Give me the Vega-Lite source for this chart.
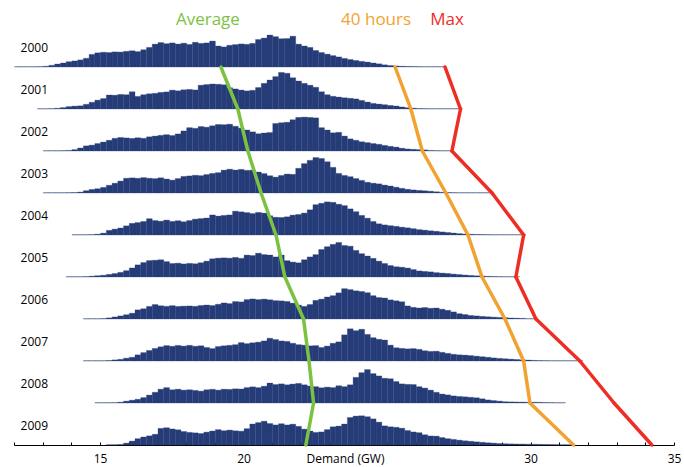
{
"$schema":"https://vega.github.io/schema/vega-lite/v6.json",
"padding":{"left":13,"top":11,"right":4,"bottom":1},
"background":"white",
"config":{"view":{"stroke":null},"font":"Open Sans"},
"data":{"values":[
{"yr":2000,"d":12.0,"n":0.3},{"yr":2000,"d":12.2,"n":0.3},{"yr":2000,"d":12.4,"n":0.3},{"yr":2000,"d":12.6,"n":0.3},{"yr":2000,"d":12.8,"n":0.4},{"yr":2000,"d":13.0,"n":0.8},{"yr":2000,"d":13.2,"n":1.8},{"yr":2000,"d":13.4,"n":3.2},{"yr":2000,"d":13.6,"n":4.3},{"yr":2000,"d":13.8,"n":5.7},{"yr":2000,"d":14.0,"n":6.5},{"yr":2000,"d":14.2,"n":7.6},{"yr":2000,"d":14.4,"n":9.3},{"yr":2000,"d":14.6,"n":13.5},{"yr":2000,"d":14.8,"n":15.2},{"yr":2000,"d":15.0,"n":15.8},{"yr":2000,"d":15.2,"n":15.5},{"yr":2000,"d":15.4,"n":16.2},{"yr":2000,"d":15.6,"n":16},{"yr":2000,"d":15.8,"n":16.8},{"yr":2000,"d":16.0,"n":17.4},{"yr":2000,"d":16.2,"n":16.5},{"yr":2000,"d":16.4,"n":18.5},{"yr":2000,"d":16.6,"n":21},{"yr":2000,"d":16.8,"n":24.5},{"yr":2000,"d":17.0,"n":26.2},{"yr":2000,"d":17.2,"n":25},{"yr":2000,"d":17.4,"n":25.8},{"yr":2000,"d":17.6,"n":24.6},{"yr":2000,"d":17.8,"n":25.5},{"yr":2000,"d":18.0,"n":24.2},{"yr":2000,"d":18.2,"n":26.5},{"yr":2000,"d":18.4,"n":25.3},{"yr":2000,"d":18.6,"n":25.8},{"yr":2000,"d":18.8,"n":27.8},{"yr":2000,"d":19.0,"n":22.5},{"yr":2000,"d":19.2,"n":21.5},{"yr":2000,"d":19.4,"n":23.3},{"yr":2000,"d":19.6,"n":24},{"yr":2000,"d":19.8,"n":24.7},{"yr":2000,"d":20.0,"n":24.3},{"yr":2000,"d":20.2,"n":25.3},{"yr":2000,"d":20.4,"n":29.5},{"yr":2000,"d":20.6,"n":31},{"yr":2000,"d":20.8,"n":34.2},{"yr":2000,"d":21.0,"n":32.5},{"yr":2000,"d":21.2,"n":30.3},{"yr":2000,"d":21.4,"n":30.5},{"yr":2000,"d":21.6,"n":33},{"yr":2000,"d":21.8,"n":24.5},{"yr":2000,"d":22.0,"n":22.5},{"yr":2000,"d":22.2,"n":21},{"yr":2000,"d":22.4,"n":17.7},{"yr":2000,"d":22.6,"n":15.5},{"yr":2000,"d":22.8,"n":13.8},{"yr":2000,"d":23.0,"n":12.2},{"yr":2000,"d":23.2,"n":10.8},{"yr":2000,"d":23.4,"n":9.2},{"yr":2000,"d":23.6,"n":8},{"yr":2000,"d":23.8,"n":7},{"yr":2000,"d":24.0,"n":6},{"yr":2000,"d":24.2,"n":5.3},{"yr":2000,"d":24.4,"n":4.3},{"yr":2000,"d":24.6,"n":3.4},{"yr":2000,"d":24.8,"n":2.3},{"yr":2000,"d":25.0,"n":1.6},{"yr":2000,"d":25.2,"n":1.1},{"yr":2000,"d":25.4,"n":0.8},{"yr":2000,"d":25.6,"n":0.6},{"yr":2000,"d":25.8,"n":0.5},{"yr":2000,"d":26.0,"n":0.4},{"yr":2000,"d":26.2,"n":0.3},{"yr":2000,"d":26.4,"n":0.3},{"yr":2000,"d":26.6,"n":0.3},{"yr":2000,"d":26.8,"n":0.3},
{"yr":2001,"d":12.8,"n":0.3},{"yr":2001,"d":13.0,"n":0.3},{"yr":2001,"d":13.2,"n":0.4},{"yr":2001,"d":13.4,"n":0.8},{"yr":2001,"d":13.6,"n":1.5},{"yr":2001,"d":13.8,"n":2.6},{"yr":2001,"d":14.0,"n":3.1},{"yr":2001,"d":14.2,"n":3.4},{"yr":2001,"d":14.4,"n":5},{"yr":2001,"d":14.6,"n":7.2},{"yr":2001,"d":14.8,"n":9.5},{"yr":2001,"d":15.0,"n":11.2},{"yr":2001,"d":15.2,"n":15},{"yr":2001,"d":15.4,"n":14.8},{"yr":2001,"d":15.6,"n":15.6},{"yr":2001,"d":15.8,"n":15.3},{"yr":2001,"d":16.0,"n":18.5},{"yr":2001,"d":16.2,"n":13.5},{"yr":2001,"d":16.4,"n":15.3},{"yr":2001,"d":16.6,"n":16.3},{"yr":2001,"d":16.8,"n":16.8},{"yr":2001,"d":17.0,"n":17.8},{"yr":2001,"d":17.2,"n":18.3},{"yr":2001,"d":17.4,"n":20.2},{"yr":2001,"d":17.6,"n":19.5},{"yr":2001,"d":17.8,"n":20.6},{"yr":2001,"d":18.0,"n":21},{"yr":2001,"d":18.2,"n":20.4},{"yr":2001,"d":18.4,"n":25.5},{"yr":2001,"d":18.6,"n":26.2},{"yr":2001,"d":18.8,"n":26.8},{"yr":2001,"d":19.0,"n":26.5},{"yr":2001,"d":19.2,"n":26},{"yr":2001,"d":19.4,"n":22.8},{"yr":2001,"d":19.6,"n":21.5},{"yr":2001,"d":19.8,"n":20.3},{"yr":2001,"d":20.0,"n":19.4},{"yr":2001,"d":20.2,"n":20},{"yr":2001,"d":20.4,"n":23},{"yr":2001,"d":20.6,"n":27.5},{"yr":2001,"d":20.8,"n":31},{"yr":2001,"d":21.0,"n":34.7},{"yr":2001,"d":21.2,"n":39.2},{"yr":2001,"d":21.4,"n":38.3},{"yr":2001,"d":21.6,"n":33.5},{"yr":2001,"d":21.8,"n":30},{"yr":2001,"d":22.0,"n":27.5},{"yr":2001,"d":22.2,"n":25.5},{"yr":2001,"d":22.4,"n":23.3},{"yr":2001,"d":22.6,"n":18.5},{"yr":2001,"d":22.8,"n":15.3},{"yr":2001,"d":23.0,"n":13.6},{"yr":2001,"d":23.2,"n":12.8},{"yr":2001,"d":23.4,"n":12},{"yr":2001,"d":23.6,"n":11.5},{"yr":2001,"d":23.8,"n":10.8},{"yr":2001,"d":24.0,"n":9.2},{"yr":2001,"d":24.2,"n":7.5},{"yr":2001,"d":24.4,"n":6},{"yr":2001,"d":24.6,"n":5.3},{"yr":2001,"d":24.8,"n":4.6},{"yr":2001,"d":25.0,"n":3.8},{"yr":2001,"d":25.2,"n":3.2},{"yr":2001,"d":25.4,"n":2.2},{"yr":2001,"d":25.6,"n":1.4},{"yr":2001,"d":25.8,"n":0.9},{"yr":2001,"d":26.0,"n":0.5},{"yr":2001,"d":26.2,"n":0.4},{"yr":2001,"d":26.4,"n":0.3},{"yr":2001,"d":26.6,"n":0.3},{"yr":2001,"d":26.8,"n":0.3},{"yr":2001,"d":27.0,"n":0.3},{"yr":2001,"d":27.2,"n":0.3},{"yr":2001,"d":27.4,"n":0.3},
{"yr":2002,"d":13.0,"n":0.3},{"yr":2002,"d":13.2,"n":0.3},{"yr":2002,"d":13.4,"n":0.3},{"yr":2002,"d":13.6,"n":0.4},{"yr":2002,"d":13.8,"n":0.6},{"yr":2002,"d":14.0,"n":1.5},{"yr":2002,"d":14.2,"n":3.2},{"yr":2002,"d":14.4,"n":5.5},{"yr":2002,"d":14.6,"n":6.3},{"yr":2002,"d":14.8,"n":8},{"yr":2002,"d":15.0,"n":9.6},{"yr":2002,"d":15.2,"n":11.5},{"yr":2002,"d":15.4,"n":13.6},{"yr":2002,"d":15.6,"n":14.5},{"yr":2002,"d":15.8,"n":14},{"yr":2002,"d":16.0,"n":13.5},{"yr":2002,"d":16.2,"n":14.2},{"yr":2002,"d":16.4,"n":13.6},{"yr":2002,"d":16.6,"n":15.2},{"yr":2002,"d":16.8,"n":16},{"yr":2002,"d":17.0,"n":16.8},{"yr":2002,"d":17.2,"n":17.5},{"yr":2002,"d":17.4,"n":16.6},{"yr":2002,"d":17.6,"n":18.3},{"yr":2002,"d":17.8,"n":21.5},{"yr":2002,"d":18.0,"n":25},{"yr":2002,"d":18.2,"n":24.3},{"yr":2002,"d":18.4,"n":26.2},{"yr":2002,"d":18.6,"n":25.5},{"yr":2002,"d":18.8,"n":27},{"yr":2002,"d":19.0,"n":28.4},{"yr":2002,"d":19.2,"n":28.2},{"yr":2002,"d":19.4,"n":28.7},{"yr":2002,"d":19.6,"n":26.5},{"yr":2002,"d":19.8,"n":24.5},{"yr":2002,"d":20.0,"n":22.5},{"yr":2002,"d":20.2,"n":20.5},{"yr":2002,"d":20.4,"n":18.5},{"yr":2002,"d":20.6,"n":19.3},{"yr":2002,"d":20.8,"n":19.8},{"yr":2002,"d":21.0,"n":29.5},{"yr":2002,"d":21.2,"n":30.3},{"yr":2002,"d":21.4,"n":30.8},{"yr":2002,"d":21.6,"n":33.5},{"yr":2002,"d":21.8,"n":36},{"yr":2002,"d":22.0,"n":36.3},{"yr":2002,"d":22.2,"n":36},{"yr":2002,"d":22.4,"n":35.5},{"yr":2002,"d":22.6,"n":25},{"yr":2002,"d":22.8,"n":22.5},{"yr":2002,"d":23.0,"n":19.5},{"yr":2002,"d":23.2,"n":20},{"yr":2002,"d":23.4,"n":16},{"yr":2002,"d":23.6,"n":13},{"yr":2002,"d":23.8,"n":11.5},{"yr":2002,"d":24.0,"n":9.9},{"yr":2002,"d":24.2,"n":9},{"yr":2002,"d":24.4,"n":8},{"yr":2002,"d":24.6,"n":7.2},{"yr":2002,"d":24.8,"n":6},{"yr":2002,"d":25.0,"n":5},{"yr":2002,"d":25.2,"n":4.2},{"yr":2002,"d":25.4,"n":3},{"yr":2002,"d":25.6,"n":2.2},{"yr":2002,"d":25.8,"n":1.8},{"yr":2002,"d":26.0,"n":1.5},{"yr":2002,"d":26.2,"n":1.2},{"yr":2002,"d":26.4,"n":0.6},{"yr":2002,"d":26.6,"n":0.4},{"yr":2002,"d":26.8,"n":0.3},{"yr":2002,"d":27.0,"n":0.3},
{"yr":2003,"d":13.0,"n":0.3},{"yr":2003,"d":13.2,"n":0.3},{"yr":2003,"d":13.4,"n":0.3},{"yr":2003,"d":13.6,"n":0.3},{"yr":2003,"d":13.8,"n":0.4},{"yr":2003,"d":14.0,"n":0.5},{"yr":2003,"d":14.2,"n":1},{"yr":2003,"d":14.4,"n":2.5},{"yr":2003,"d":14.6,"n":3.8},{"yr":2003,"d":14.8,"n":4.6},{"yr":2003,"d":15.0,"n":6},{"yr":2003,"d":15.2,"n":8.3},{"yr":2003,"d":15.4,"n":10.5},{"yr":2003,"d":15.6,"n":12.8},{"yr":2003,"d":15.8,"n":15.8},{"yr":2003,"d":16.0,"n":16.2},{"yr":2003,"d":16.2,"n":15.8},{"yr":2003,"d":16.4,"n":16.5},{"yr":2003,"d":16.6,"n":15.8},{"yr":2003,"d":16.8,"n":15.4},{"yr":2003,"d":17.0,"n":16.3},{"yr":2003,"d":17.2,"n":15},{"yr":2003,"d":17.4,"n":13.8},{"yr":2003,"d":17.6,"n":15.5},{"yr":2003,"d":17.8,"n":17.8},{"yr":2003,"d":18.0,"n":18.3},{"yr":2003,"d":18.2,"n":19},{"yr":2003,"d":18.4,"n":18.6},{"yr":2003,"d":18.6,"n":19.8},{"yr":2003,"d":18.8,"n":21},{"yr":2003,"d":19.0,"n":21.8},{"yr":2003,"d":19.2,"n":24.5},{"yr":2003,"d":19.4,"n":25.5},{"yr":2003,"d":19.6,"n":24.6},{"yr":2003,"d":19.8,"n":25.3},{"yr":2003,"d":20.0,"n":24.3},{"yr":2003,"d":20.2,"n":24.5},{"yr":2003,"d":20.4,"n":22.5},{"yr":2003,"d":20.6,"n":20.8},{"yr":2003,"d":20.8,"n":18.6},{"yr":2003,"d":21.0,"n":17},{"yr":2003,"d":21.2,"n":18.8},{"yr":2003,"d":21.4,"n":20.3},{"yr":2003,"d":21.6,"n":20},{"yr":2003,"d":21.8,"n":26.5},{"yr":2003,"d":22.0,"n":31.5},{"yr":2003,"d":22.2,"n":35},{"yr":2003,"d":22.4,"n":38},{"yr":2003,"d":22.6,"n":37},{"yr":2003,"d":22.8,"n":33.5},{"yr":2003,"d":23.0,"n":27.5},{"yr":2003,"d":23.2,"n":21},{"yr":2003,"d":23.4,"n":18.8},{"yr":2003,"d":23.6,"n":17.5},{"yr":2003,"d":23.8,"n":15.5},{"yr":2003,"d":24.0,"n":13.5},{"yr":2003,"d":24.2,"n":11.5},{"yr":2003,"d":24.4,"n":10.5},{"yr":2003,"d":24.6,"n":9.8},{"yr":2003,"d":24.8,"n":8.5},{"yr":2003,"d":25.0,"n":7.5},{"yr":2003,"d":25.2,"n":6.2},{"yr":2003,"d":25.4,"n":5},{"yr":2003,"d":25.6,"n":4},{"yr":2003,"d":25.8,"n":3.3},{"yr":2003,"d":26.0,"n":2.8},{"yr":2003,"d":26.2,"n":2.4},{"yr":2003,"d":26.4,"n":1.9},{"yr":2003,"d":26.6,"n":1.3},{"yr":2003,"d":26.8,"n":0.8},{"yr":2003,"d":27.0,"n":0.6},{"yr":2003,"d":27.2,"n":0.4},{"yr":2003,"d":27.4,"n":0.3},{"yr":2003,"d":27.6,"n":0.3},{"yr":2003,"d":27.8,"n":0.3},{"yr":2003,"d":28.0,"n":0.3},{"yr":2003,"d":28.2,"n":0.3},{"yr":2003,"d":28.4,"n":0.3},
{"yr":2004,"d":14.0,"n":0.3},{"yr":2004,"d":14.2,"n":0.3},{"yr":2004,"d":14.4,"n":0.3},{"yr":2004,"d":14.6,"n":0.4},{"yr":2004,"d":14.8,"n":0.9},{"yr":2004,"d":15.0,"n":2},{"yr":2004,"d":15.2,"n":5},{"yr":2004,"d":15.4,"n":6.3},{"yr":2004,"d":15.6,"n":7.5},{"yr":2004,"d":15.8,"n":9.8},{"yr":2004,"d":16.0,"n":12.5},{"yr":2004,"d":16.2,"n":13.3},{"yr":2004,"d":16.4,"n":14.5},{"yr":2004,"d":16.6,"n":17.5},{"yr":2004,"d":16.8,"n":15.5},{"yr":2004,"d":17.0,"n":14.8},{"yr":2004,"d":17.2,"n":16},{"yr":2004,"d":17.4,"n":14.6},{"yr":2004,"d":17.6,"n":15.3},{"yr":2004,"d":17.8,"n":14.2},{"yr":2004,"d":18.0,"n":15.5},{"yr":2004,"d":18.2,"n":17},{"yr":2004,"d":18.4,"n":17.6},{"yr":2004,"d":18.6,"n":18.2},{"yr":2004,"d":18.8,"n":21.5},{"yr":2004,"d":19.0,"n":20.3},{"yr":2004,"d":19.2,"n":21},{"yr":2004,"d":19.4,"n":21.5},{"yr":2004,"d":19.6,"n":25.5},{"yr":2004,"d":19.8,"n":24.8},{"yr":2004,"d":20.0,"n":24},{"yr":2004,"d":20.2,"n":23},{"yr":2004,"d":20.4,"n":24.2},{"yr":2004,"d":20.6,"n":23.5},{"yr":2004,"d":20.8,"n":20.5},{"yr":2004,"d":21.0,"n":19},{"yr":2004,"d":21.2,"n":18.8},{"yr":2004,"d":21.4,"n":19.5},{"yr":2004,"d":21.6,"n":21.3},{"yr":2004,"d":21.8,"n":22},{"yr":2004,"d":22.0,"n":23.5},{"yr":2004,"d":22.2,"n":27},{"yr":2004,"d":22.4,"n":32.5},{"yr":2004,"d":22.6,"n":34},{"yr":2004,"d":22.8,"n":35.5},{"yr":2004,"d":23.0,"n":35},{"yr":2004,"d":23.2,"n":33},{"yr":2004,"d":23.4,"n":31.5},{"yr":2004,"d":23.6,"n":28},{"yr":2004,"d":23.8,"n":25},{"yr":2004,"d":24.0,"n":21},{"yr":2004,"d":24.2,"n":18},{"yr":2004,"d":24.4,"n":14.5},{"yr":2004,"d":24.6,"n":12},{"yr":2004,"d":24.8,"n":10.8},{"yr":2004,"d":25.0,"n":10},{"yr":2004,"d":25.2,"n":9.3},{"yr":2004,"d":25.4,"n":8.4},{"yr":2004,"d":25.6,"n":7.7},{"yr":2004,"d":25.8,"n":6.8},{"yr":2004,"d":26.0,"n":5.8},{"yr":2004,"d":26.2,"n":5.2},{"yr":2004,"d":26.4,"n":4.5},{"yr":2004,"d":26.6,"n":4},{"yr":2004,"d":26.8,"n":3.3},{"yr":2004,"d":27.0,"n":2.7},{"yr":2004,"d":27.2,"n":2.1},{"yr":2004,"d":27.4,"n":1.5},{"yr":2004,"d":27.6,"n":1.1},{"yr":2004,"d":27.8,"n":0.8},{"yr":2004,"d":28.0,"n":0.6},{"yr":2004,"d":28.2,"n":0.5},{"yr":2004,"d":28.4,"n":0.4},{"yr":2004,"d":28.6,"n":0.3},{"yr":2004,"d":28.8,"n":0.3},{"yr":2004,"d":29.0,"n":0.3},{"yr":2004,"d":29.2,"n":0.3},{"yr":2004,"d":29.4,"n":0.3},{"yr":2004,"d":29.6,"n":0.3},
{"yr":2005,"d":13.8,"n":0.3},{"yr":2005,"d":14.0,"n":0.3},{"yr":2005,"d":14.2,"n":0.3},{"yr":2005,"d":14.4,"n":0.5},{"yr":2005,"d":14.6,"n":0.9},{"yr":2005,"d":14.8,"n":1.4},{"yr":2005,"d":15.0,"n":1.9},{"yr":2005,"d":15.2,"n":2.8},{"yr":2005,"d":15.4,"n":3.7},{"yr":2005,"d":15.6,"n":5},{"yr":2005,"d":15.8,"n":6.8},{"yr":2005,"d":16.0,"n":9.7},{"yr":2005,"d":16.2,"n":13},{"yr":2005,"d":16.4,"n":15.5},{"yr":2005,"d":16.6,"n":17.6},{"yr":2005,"d":16.8,"n":18},{"yr":2005,"d":17.0,"n":18.5},{"yr":2005,"d":17.2,"n":16.5},{"yr":2005,"d":17.4,"n":14.5},{"yr":2005,"d":17.6,"n":14.8},{"yr":2005,"d":17.8,"n":14},{"yr":2005,"d":18.0,"n":14.6},{"yr":2005,"d":18.2,"n":14.2},{"yr":2005,"d":18.4,"n":15.3},{"yr":2005,"d":18.6,"n":17},{"yr":2005,"d":18.8,"n":19.5},{"yr":2005,"d":19.0,"n":20.2},{"yr":2005,"d":19.2,"n":20.5},{"yr":2005,"d":19.4,"n":20.2},{"yr":2005,"d":19.6,"n":21},{"yr":2005,"d":19.8,"n":20},{"yr":2005,"d":20.0,"n":23.5},{"yr":2005,"d":20.2,"n":23},{"yr":2005,"d":20.4,"n":25.5},{"yr":2005,"d":20.6,"n":24},{"yr":2005,"d":20.8,"n":23.5},{"yr":2005,"d":21.0,"n":21.5},{"yr":2005,"d":21.2,"n":23.5},{"yr":2005,"d":21.4,"n":17.5},{"yr":2005,"d":21.6,"n":16},{"yr":2005,"d":21.8,"n":15.2},{"yr":2005,"d":22.0,"n":18.5},{"yr":2005,"d":22.2,"n":21.5},{"yr":2005,"d":22.4,"n":24},{"yr":2005,"d":22.6,"n":29.5},{"yr":2005,"d":22.8,"n":32.5},{"yr":2005,"d":23.0,"n":35},{"yr":2005,"d":23.2,"n":37},{"yr":2005,"d":23.4,"n":33.8},{"yr":2005,"d":23.6,"n":33},{"yr":2005,"d":23.8,"n":28.5},{"yr":2005,"d":24.0,"n":25},{"yr":2005,"d":24.2,"n":22.5},{"yr":2005,"d":24.4,"n":20},{"yr":2005,"d":24.6,"n":17},{"yr":2005,"d":24.8,"n":14.5},{"yr":2005,"d":25.0,"n":12.3},{"yr":2005,"d":25.2,"n":11},{"yr":2005,"d":25.4,"n":10.5},{"yr":2005,"d":25.6,"n":9.6},{"yr":2005,"d":25.8,"n":8},{"yr":2005,"d":26.0,"n":6.5},{"yr":2005,"d":26.2,"n":6},{"yr":2005,"d":26.4,"n":5.5},{"yr":2005,"d":26.6,"n":4.7},{"yr":2005,"d":26.8,"n":4.2},{"yr":2005,"d":27.0,"n":3.8},{"yr":2005,"d":27.2,"n":3.1},{"yr":2005,"d":27.4,"n":2.6},{"yr":2005,"d":27.6,"n":2.1},{"yr":2005,"d":27.8,"n":1.7},{"yr":2005,"d":28.0,"n":1.3},{"yr":2005,"d":28.2,"n":1},{"yr":2005,"d":28.4,"n":0.7},{"yr":2005,"d":28.6,"n":0.5},{"yr":2005,"d":28.8,"n":0.4},{"yr":2005,"d":29.0,"n":0.3},{"yr":2005,"d":29.2,"n":0.3},{"yr":2005,"d":29.4,"n":0.3},
{"yr":2006,"d":14.4,"n":0.3},{"yr":2006,"d":14.6,"n":0.3},{"yr":2006,"d":14.8,"n":0.3},{"yr":2006,"d":15.0,"n":0.5},{"yr":2006,"d":15.2,"n":1.2},{"yr":2006,"d":15.4,"n":2.2},{"yr":2006,"d":15.6,"n":3.3},{"yr":2006,"d":15.8,"n":4.6},{"yr":2006,"d":16.0,"n":6.2},{"yr":2006,"d":16.2,"n":9.8},{"yr":2006,"d":16.4,"n":11},{"yr":2006,"d":16.6,"n":13.5},{"yr":2006,"d":16.8,"n":15.5},{"yr":2006,"d":17.0,"n":14.2},{"yr":2006,"d":17.2,"n":13.6},{"yr":2006,"d":17.4,"n":14.3},{"yr":2006,"d":17.6,"n":13.5},{"yr":2006,"d":17.8,"n":13.8},{"yr":2006,"d":18.0,"n":14},{"yr":2006,"d":18.2,"n":13.6},{"yr":2006,"d":18.4,"n":14.5},{"yr":2006,"d":18.6,"n":15},{"yr":2006,"d":18.8,"n":14.4},{"yr":2006,"d":19.0,"n":15.8},{"yr":2006,"d":19.2,"n":17.2},{"yr":2006,"d":19.4,"n":16.5},{"yr":2006,"d":19.6,"n":18.7},{"yr":2006,"d":19.8,"n":18.3},{"yr":2006,"d":20.0,"n":20.8},{"yr":2006,"d":20.2,"n":21.5},{"yr":2006,"d":20.4,"n":20.8},{"yr":2006,"d":20.6,"n":21.3},{"yr":2006,"d":20.8,"n":20.5},{"yr":2006,"d":21.0,"n":19.7},{"yr":2006,"d":21.2,"n":19.4},{"yr":2006,"d":21.4,"n":18.8},{"yr":2006,"d":21.6,"n":17},{"yr":2006,"d":21.8,"n":15},{"yr":2006,"d":22.0,"n":13.5},{"yr":2006,"d":22.2,"n":15.5},{"yr":2006,"d":22.4,"n":20},{"yr":2006,"d":22.6,"n":21.3},{"yr":2006,"d":22.8,"n":23.6},{"yr":2006,"d":23.0,"n":25},{"yr":2006,"d":23.2,"n":28},{"yr":2006,"d":23.4,"n":32.5},{"yr":2006,"d":23.6,"n":31.5},{"yr":2006,"d":23.8,"n":30.2},{"yr":2006,"d":24.0,"n":29.5},{"yr":2006,"d":24.2,"n":28.2},{"yr":2006,"d":24.4,"n":25},{"yr":2006,"d":24.6,"n":23},{"yr":2006,"d":24.8,"n":22.5},{"yr":2006,"d":25.0,"n":20.5},{"yr":2006,"d":25.2,"n":19.5},{"yr":2006,"d":25.4,"n":18.5},{"yr":2006,"d":25.6,"n":14},{"yr":2006,"d":25.8,"n":12.5},{"yr":2006,"d":26.0,"n":11.8},{"yr":2006,"d":26.2,"n":12.3},{"yr":2006,"d":26.4,"n":11.5},{"yr":2006,"d":26.6,"n":11.8},{"yr":2006,"d":26.8,"n":10.5},{"yr":2006,"d":27.0,"n":9.3},{"yr":2006,"d":27.2,"n":7.6},{"yr":2006,"d":27.4,"n":5.7},{"yr":2006,"d":27.6,"n":4.8},{"yr":2006,"d":27.8,"n":3.8},{"yr":2006,"d":28.0,"n":3.3},{"yr":2006,"d":28.2,"n":2.8},{"yr":2006,"d":28.4,"n":2.4},{"yr":2006,"d":28.6,"n":2},{"yr":2006,"d":28.8,"n":1.7},{"yr":2006,"d":29.0,"n":1.4},{"yr":2006,"d":29.2,"n":1.1},{"yr":2006,"d":29.4,"n":0.9},{"yr":2006,"d":29.6,"n":0.7},{"yr":2006,"d":29.8,"n":0.4},{"yr":2006,"d":30.0,"n":0.3},
{"yr":2007,"d":14.4,"n":0.3},{"yr":2007,"d":14.6,"n":0.3},{"yr":2007,"d":14.8,"n":0.3},{"yr":2007,"d":15.0,"n":0.3},{"yr":2007,"d":15.2,"n":0.6},{"yr":2007,"d":15.4,"n":1.2},{"yr":2007,"d":15.6,"n":1.8},{"yr":2007,"d":15.8,"n":3},{"yr":2007,"d":16.0,"n":4},{"yr":2007,"d":16.2,"n":6.6},{"yr":2007,"d":16.4,"n":9},{"yr":2007,"d":16.6,"n":11.3},{"yr":2007,"d":16.8,"n":13.5},{"yr":2007,"d":17.0,"n":15.2},{"yr":2007,"d":17.2,"n":16.5},{"yr":2007,"d":17.4,"n":15.8},{"yr":2007,"d":17.6,"n":16.7},{"yr":2007,"d":17.8,"n":16},{"yr":2007,"d":18.0,"n":16.8},{"yr":2007,"d":18.2,"n":15.8},{"yr":2007,"d":18.4,"n":16.3},{"yr":2007,"d":18.6,"n":14.5},{"yr":2007,"d":18.8,"n":13.3},{"yr":2007,"d":19.0,"n":15.5},{"yr":2007,"d":19.2,"n":16.3},{"yr":2007,"d":19.4,"n":16.8},{"yr":2007,"d":19.6,"n":17.5},{"yr":2007,"d":19.8,"n":19.7},{"yr":2007,"d":20.0,"n":18.6},{"yr":2007,"d":20.2,"n":19.5},{"yr":2007,"d":20.4,"n":20.2},{"yr":2007,"d":20.6,"n":21.5},{"yr":2007,"d":20.8,"n":24.5},{"yr":2007,"d":21.0,"n":23},{"yr":2007,"d":21.2,"n":21.5},{"yr":2007,"d":21.4,"n":21},{"yr":2007,"d":21.6,"n":19},{"yr":2007,"d":21.8,"n":17.5},{"yr":2007,"d":22.0,"n":17},{"yr":2007,"d":22.2,"n":16.2},{"yr":2007,"d":22.4,"n":16.5},{"yr":2007,"d":22.6,"n":14.5},{"yr":2007,"d":22.8,"n":16},{"yr":2007,"d":23.0,"n":19},{"yr":2007,"d":23.2,"n":20.5},{"yr":2007,"d":23.4,"n":28},{"yr":2007,"d":23.6,"n":34.5},{"yr":2007,"d":23.8,"n":32.5},{"yr":2007,"d":24.0,"n":34},{"yr":2007,"d":24.2,"n":28.5},{"yr":2007,"d":24.4,"n":25},{"yr":2007,"d":24.6,"n":23.3},{"yr":2007,"d":24.8,"n":22.5},{"yr":2007,"d":25.0,"n":17},{"yr":2007,"d":25.2,"n":14.2},{"yr":2007,"d":25.4,"n":13.5},{"yr":2007,"d":25.6,"n":13},{"yr":2007,"d":25.8,"n":13.3},{"yr":2007,"d":26.0,"n":12.5},{"yr":2007,"d":26.2,"n":11},{"yr":2007,"d":26.4,"n":10.3},{"yr":2007,"d":26.6,"n":10.5},{"yr":2007,"d":26.8,"n":9.3},{"yr":2007,"d":27.0,"n":8.2},{"yr":2007,"d":27.2,"n":7.2},{"yr":2007,"d":27.4,"n":6.6},{"yr":2007,"d":27.6,"n":6.3},{"yr":2007,"d":27.8,"n":5.8},{"yr":2007,"d":28.0,"n":5.2},{"yr":2007,"d":28.2,"n":4.6},{"yr":2007,"d":28.4,"n":4},{"yr":2007,"d":28.6,"n":3.3},{"yr":2007,"d":28.8,"n":2.8},{"yr":2007,"d":29.0,"n":2.4},{"yr":2007,"d":29.2,"n":2},{"yr":2007,"d":29.4,"n":1.6},{"yr":2007,"d":29.6,"n":1.3},{"yr":2007,"d":29.8,"n":1},{"yr":2007,"d":30.0,"n":0.7},{"yr":2007,"d":30.2,"n":0.5},{"yr":2007,"d":30.4,"n":0.4},{"yr":2007,"d":30.6,"n":0.3},{"yr":2007,"d":30.8,"n":0.3},{"yr":2007,"d":31.0,"n":0.3},{"yr":2007,"d":31.2,"n":0.3},{"yr":2007,"d":31.4,"n":0.3},{"yr":2007,"d":31.6,"n":0.3},
{"yr":2008,"d":14.8,"n":0.3},{"yr":2008,"d":15.0,"n":0.3},{"yr":2008,"d":15.2,"n":0.3},{"yr":2008,"d":15.4,"n":0.4},{"yr":2008,"d":15.6,"n":0.9},{"yr":2008,"d":15.8,"n":2},{"yr":2008,"d":16.0,"n":3},{"yr":2008,"d":16.2,"n":4},{"yr":2008,"d":16.4,"n":5.8},{"yr":2008,"d":16.6,"n":8.5},{"yr":2008,"d":16.8,"n":11.5},{"yr":2008,"d":17.0,"n":14.8},{"yr":2008,"d":17.2,"n":16.5},{"yr":2008,"d":17.4,"n":14.2},{"yr":2008,"d":17.6,"n":14.8},{"yr":2008,"d":17.8,"n":13.8},{"yr":2008,"d":18.0,"n":14.2},{"yr":2008,"d":18.2,"n":13.5},{"yr":2008,"d":18.4,"n":12.7},{"yr":2008,"d":18.6,"n":14.2},{"yr":2008,"d":18.8,"n":14.7},{"yr":2008,"d":19.0,"n":13.8},{"yr":2008,"d":19.2,"n":14.8},{"yr":2008,"d":19.4,"n":14.6},{"yr":2008,"d":19.6,"n":15.2},{"yr":2008,"d":19.8,"n":15},{"yr":2008,"d":20.0,"n":16.5},{"yr":2008,"d":20.2,"n":17.3},{"yr":2008,"d":20.4,"n":16.5},{"yr":2008,"d":20.6,"n":18},{"yr":2008,"d":20.8,"n":21.3},{"yr":2008,"d":21.0,"n":19.8},{"yr":2008,"d":21.2,"n":20.5},{"yr":2008,"d":21.4,"n":19.5},{"yr":2008,"d":21.6,"n":20.3},{"yr":2008,"d":21.8,"n":21},{"yr":2008,"d":22.0,"n":19.5},{"yr":2008,"d":22.2,"n":18.2},{"yr":2008,"d":22.4,"n":17.5},{"yr":2008,"d":22.6,"n":16.3},{"yr":2008,"d":22.8,"n":17},{"yr":2008,"d":23.0,"n":16.5},{"yr":2008,"d":23.2,"n":18.5},{"yr":2008,"d":23.4,"n":17.5},{"yr":2008,"d":23.6,"n":19.5},{"yr":2008,"d":23.8,"n":27.5},{"yr":2008,"d":24.0,"n":32.5},{"yr":2008,"d":24.2,"n":35.8},{"yr":2008,"d":24.4,"n":31.5},{"yr":2008,"d":24.6,"n":29},{"yr":2008,"d":24.8,"n":26.5},{"yr":2008,"d":25.0,"n":26},{"yr":2008,"d":25.2,"n":23},{"yr":2008,"d":25.4,"n":20.5},{"yr":2008,"d":25.6,"n":20},{"yr":2008,"d":25.8,"n":19.8},{"yr":2008,"d":26.0,"n":17.5},{"yr":2008,"d":26.2,"n":16},{"yr":2008,"d":26.4,"n":13.8},{"yr":2008,"d":26.6,"n":11.5},{"yr":2008,"d":26.8,"n":9.6},{"yr":2008,"d":27.0,"n":8.7},{"yr":2008,"d":27.2,"n":7.6},{"yr":2008,"d":27.4,"n":7},{"yr":2008,"d":27.6,"n":6.6},{"yr":2008,"d":27.8,"n":6.1},{"yr":2008,"d":28.0,"n":5.6},{"yr":2008,"d":28.2,"n":4.5},{"yr":2008,"d":28.4,"n":3.3},{"yr":2008,"d":28.6,"n":2.6},{"yr":2008,"d":28.8,"n":2},{"yr":2008,"d":29.0,"n":1.4},{"yr":2008,"d":29.2,"n":1.2},{"yr":2008,"d":29.4,"n":1.1},{"yr":2008,"d":29.6,"n":1},{"yr":2008,"d":29.8,"n":0.9},{"yr":2008,"d":30.0,"n":0.8},{"yr":2008,"d":30.2,"n":0.7},{"yr":2008,"d":30.4,"n":0.5},{"yr":2008,"d":30.6,"n":0.4},{"yr":2008,"d":30.8,"n":0.3},{"yr":2008,"d":31.0,"n":0.3},
{"yr":2009,"d":15.2,"n":0.3},{"yr":2009,"d":15.4,"n":0.3},{"yr":2009,"d":15.6,"n":0.6},{"yr":2009,"d":15.8,"n":2},{"yr":2009,"d":16.0,"n":4.2},{"yr":2009,"d":16.2,"n":6.8},{"yr":2009,"d":16.4,"n":8.6},{"yr":2009,"d":16.6,"n":9.8},{"yr":2009,"d":16.8,"n":11.5},{"yr":2009,"d":17.0,"n":17.8},{"yr":2009,"d":17.2,"n":18.5},{"yr":2009,"d":17.4,"n":17.2},{"yr":2009,"d":17.6,"n":16.3},{"yr":2009,"d":17.8,"n":14.5},{"yr":2009,"d":18.0,"n":13.5},{"yr":2009,"d":18.2,"n":13},{"yr":2009,"d":18.4,"n":12.3},{"yr":2009,"d":18.6,"n":13.8},{"yr":2009,"d":18.8,"n":15},{"yr":2009,"d":19.0,"n":16.5},{"yr":2009,"d":19.2,"n":15.3},{"yr":2009,"d":19.4,"n":16},{"yr":2009,"d":19.6,"n":15.2},{"yr":2009,"d":19.8,"n":14.8},{"yr":2009,"d":20.0,"n":17.5},{"yr":2009,"d":20.2,"n":22.5},{"yr":2009,"d":20.4,"n":24},{"yr":2009,"d":20.6,"n":25.5},{"yr":2009,"d":20.8,"n":23},{"yr":2009,"d":21.0,"n":21.5},{"yr":2009,"d":21.2,"n":22.8},{"yr":2009,"d":21.4,"n":21.5},{"yr":2009,"d":21.6,"n":22.3},{"yr":2009,"d":21.8,"n":20},{"yr":2009,"d":22.0,"n":17},{"yr":2009,"d":22.2,"n":15},{"yr":2009,"d":22.4,"n":13.5},{"yr":2009,"d":22.6,"n":14},{"yr":2009,"d":22.8,"n":16.5},{"yr":2009,"d":23.0,"n":19.5},{"yr":2009,"d":23.2,"n":20.3},{"yr":2009,"d":23.4,"n":22.5},{"yr":2009,"d":23.6,"n":29.5},{"yr":2009,"d":23.8,"n":31},{"yr":2009,"d":24.0,"n":31.3},{"yr":2009,"d":24.2,"n":30.3},{"yr":2009,"d":24.4,"n":28},{"yr":2009,"d":24.6,"n":24.5},{"yr":2009,"d":24.8,"n":20.5},{"yr":2009,"d":25.0,"n":19.5},{"yr":2009,"d":25.2,"n":19},{"yr":2009,"d":25.4,"n":18},{"yr":2009,"d":25.6,"n":15.5},{"yr":2009,"d":25.8,"n":14},{"yr":2009,"d":26.0,"n":13.2},{"yr":2009,"d":26.2,"n":11},{"yr":2009,"d":26.4,"n":9.7},{"yr":2009,"d":26.6,"n":9.5},{"yr":2009,"d":26.8,"n":8},{"yr":2009,"d":27.0,"n":6.8},{"yr":2009,"d":27.2,"n":6},{"yr":2009,"d":27.4,"n":5.2},{"yr":2009,"d":27.6,"n":4.5},{"yr":2009,"d":27.8,"n":4},{"yr":2009,"d":28.0,"n":3.4},{"yr":2009,"d":28.2,"n":2.9},{"yr":2009,"d":28.4,"n":2.4},{"yr":2009,"d":28.6,"n":2},{"yr":2009,"d":28.8,"n":1.6},{"yr":2009,"d":29.0,"n":1.4},{"yr":2009,"d":29.2,"n":1.2},{"yr":2009,"d":29.4,"n":1.1},{"yr":2009,"d":29.6,"n":1},{"yr":2009,"d":29.8,"n":0.9},{"yr":2009,"d":30.0,"n":0.8},{"yr":2009,"d":30.2,"n":0.7},{"yr":2009,"d":30.4,"n":0.6},{"yr":2009,"d":30.6,"n":0.5},{"yr":2009,"d":30.8,"n":0.4},{"yr":2009,"d":31.0,"n":0.3},{"yr":2009,"d":31.2,"n":0.3},
{"yr":2000,"s":"Average","end":"cur","v":19.21},{"yr":2000,"s":"40 hours","end":"cur","v":25.28},{"yr":2000,"s":"Max","end":"cur","v":27.02},
{"yr":2001,"s":"Average","end":"prev","v":19.21},{"yr":2001,"s":"Average","end":"cur","v":19.80},
{"yr":2002,"s":"Average","end":"prev","v":19.80},{"yr":2002,"s":"Average","end":"cur","v":20.15},
{"yr":2003,"s":"Average","end":"prev","v":20.15},{"yr":2003,"s":"Average","end":"cur","v":20.61},
{"yr":2004,"s":"Average","end":"prev","v":20.61},{"yr":2004,"s":"Average","end":"cur","v":21.13},
{"yr":2005,"s":"Average","end":"prev","v":21.13},{"yr":2005,"s":"Average","end":"cur","v":21.44},
{"yr":2006,"s":"Average","end":"prev","v":21.44},{"yr":2006,"s":"Average","end":"cur","v":22.09},
{"yr":2007,"s":"Average","end":"prev","v":22.09},{"yr":2007,"s":"Average","end":"cur","v":22.28},
{"yr":2008,"s":"Average","end":"prev","v":22.28},{"yr":2008,"s":"Average","end":"cur","v":22.44},
{"yr":2009,"s":"Average","end":"prev","v":22.44},{"yr":2009,"s":"Average","end":"cur","v":22.17},
{"yr":2001,"s":"40 hours","end":"prev","v":25.28},{"yr":2001,"s":"40 hours","end":"cur","v":25.83},
{"yr":2002,"s":"40 hours","end":"prev","v":25.83},{"yr":2002,"s":"40 hours","end":"cur","v":26.23},
{"yr":2003,"s":"40 hours","end":"prev","v":26.23},{"yr":2003,"s":"40 hours","end":"cur","v":27.05},
{"yr":2004,"s":"40 hours","end":"prev","v":27.05},{"yr":2004,"s":"40 hours","end":"cur","v":27.82},
{"yr":2005,"s":"40 hours","end":"prev","v":27.82},{"yr":2005,"s":"40 hours","end":"cur","v":28.31},
{"yr":2006,"s":"40 hours","end":"prev","v":28.31},{"yr":2006,"s":"40 hours","end":"cur","v":29.11},
{"yr":2007,"s":"40 hours","end":"prev","v":29.11},{"yr":2007,"s":"40 hours","end":"cur","v":29.76},
{"yr":2008,"s":"40 hours","end":"prev","v":29.76},{"yr":2008,"s":"40 hours","end":"cur","v":29.98},
{"yr":2009,"s":"40 hours","end":"prev","v":29.98},{"yr":2009,"s":"40 hours","end":"cur","v":31.50},
{"yr":2001,"s":"Max","end":"prev","v":27.02},{"yr":2001,"s":"Max","end":"cur","v":27.56},
{"yr":2002,"s":"Max","end":"prev","v":27.56},{"yr":2002,"s":"Max","end":"cur","v":27.26},
{"yr":2003,"s":"Max","end":"prev","v":27.26},{"yr":2003,"s":"Max","end":"cur","v":28.66},
{"yr":2004,"s":"Max","end":"prev","v":28.66},{"yr":2004,"s":"Max","end":"cur","v":29.76},
{"yr":2005,"s":"Max","end":"prev","v":29.76},{"yr":2005,"s":"Max","end":"cur","v":29.49},
{"yr":2006,"s":"Max","end":"prev","v":29.49},{"yr":2006,"s":"Max","end":"cur","v":30.19},
{"yr":2007,"s":"Max","end":"prev","v":30.19},{"yr":2007,"s":"Max","end":"cur","v":31.72},
{"yr":2008,"s":"Max","end":"prev","v":31.72},{"yr":2008,"s":"Max","end":"cur","v":32.91},
{"yr":2009,"s":"Max","end":"prev","v":32.91},{"yr":2009,"s":"Max","end":"cur","v":34.23}
]},
"facet":{"row":{"field":"yr","type":"ordinal","header":null}},
"spacing":0,
"bounds":"flush",
"spec":{
 "width":660,"height":42,
 "layer":[
  {"layer":[
   {"transform":[{"filter":"isValid(datum.n)"}],
    "mark":{"type":"rect","color":"#263c78","stroke":"#263c78","strokeWidth":0.3},
    "encoding":{
     "x":{"field":"d","type":"quantitative","bin":{"binned":true,"step":0.2},
      "scale":{"domain":[12,35],"nice":false,"zero":false},
      "axis":{"title":"Demand (GW)","values":[12,13,14,15,16,17,18,19,20,21,22,23,24,25,26,27,28,29,30,31,32,33,34,35],
       "format":"d",
       "labelExpr":"indexof([15,20,30,35], datum.value) >= 0 ? datum.label : ''",
       "labelOverlap":false,"labelFlush":false,"labelBound":false,"labelFont":"Open Sans","labelFontSize":12,"labelColor":"black",
       "tickSize":-3,"tickColor":"black","tickWidth":1,"domainColor":"black","domainWidth":1,"labelPadding":11,"grid":false,
       "titleFont":"Open Sans","titleFontSize":12,"titleFontWeight":"normal","titleColor":"black",
       "titleX":331,"titleY":8,"titleBaseline":"top","titleAlign":"center"}},
     "y":{"field":"n","type":"quantitative","scale":{"domain":[0,42]},"axis":null},
     "y2":{"datum":0}
    }},
   {"transform":[{"filter":"isValid(datum.n)"},{"aggregate":[{"op":"count","as":"c"}],"groupby":["yr"]}],
    "mark":{"type":"text","align":"left","baseline":"middle","fontSize":12,"color":"black","font":"Open Sans"},
    "encoding":{
     "x":{"datum":12.23,"type":"quantitative"},
     "y":{"datum":20,"type":"quantitative"},
     "text":{"field":"yr","type":"nominal"}
    }}
  ]},
  {"layer":[
   {"transform":[{"filter":"isValid(datum.s) && datum.yr > 2000"}],
    "mark":{"type":"line","strokeWidth":3.5,"strokeCap":"round","strokeJoin":"round"},
    "encoding":{
     "x":{"field":"v","type":"quantitative","title":"Demand (GW)"},
     "y":{"field":"end","type":"ordinal","scale":{"type":"point","domain":["prev","cur"],"padding":0},"axis":null},
     "color":{"field":"s","type":"nominal","scale":{"domain":["Average","40 hours","Max"],"range":["#7cc242","#f2a231","#ee2d24"]},"legend":null}
    }},
   {"transform":[{"filter":"datum.s == 'Average' && datum.yr == 2000"}],
    "mark":{"type":"text","fontSize":17,"dx":-13,"dy":-47,"align":"center","baseline":"middle","font":"Open Sans"},
    "encoding":{"x":{"field":"v","type":"quantitative","title":"Demand (GW)"},"y":{"field":"end","type":"ordinal"},"text":{"field":"s","type":"nominal"},"color":{"field":"s","type":"nominal","legend":null}}},
   {"transform":[{"filter":"datum.s == '40 hours' && datum.yr == 2000"}],
    "mark":{"type":"text","fontSize":17,"dx":-19,"dy":-47,"align":"center","baseline":"middle","font":"Open Sans"},
    "encoding":{"x":{"field":"v","type":"quantitative","title":"Demand (GW)"},"y":{"field":"end","type":"ordinal"},"text":{"field":"s","type":"nominal"},"color":{"field":"s","type":"nominal","legend":null}}},
   {"transform":[{"filter":"datum.s == 'Max' && datum.yr == 2000"}],
    "mark":{"type":"text","fontSize":17,"dx":2,"dy":-47,"align":"center","baseline":"middle","font":"Open Sans"},
    "encoding":{"x":{"field":"v","type":"quantitative","title":"Demand (GW)"},"y":{"field":"end","type":"ordinal"},"text":{"field":"s","type":"nominal"},"color":{"field":"s","type":"nominal","legend":null}}}
  ]}
 ],
 "resolve":{"scale":{"y":"independent"}}
}
}
